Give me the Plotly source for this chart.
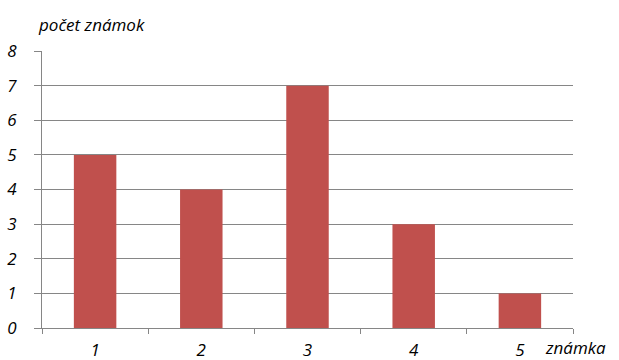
import plotly.graph_objects as go

categories = ["1", "2", "3", "4", "5"]
values = [5, 4, 7, 3, 1]
y_ticks = [0, 1, 2, 3, 4, 5, 6, 7, 8]

font = dict(family="Open Sans", size=17, color="#000000", style="italic")

fig = go.Figure(go.Bar(x=categories, y=values, marker=dict(color="#C0504D", line=dict(width=0))))

fig.update_layout(
    width=619, height=360,
    margin=dict(l=42, r=46, t=51, b=32),
    paper_bgcolor="white", plot_bgcolor="white",
    bargap=0.6, showlegend=False,
    font=font,
)
fig.update_xaxes(
    type="category", tickson="boundaries", ticks="outside", ticklen=5,
    tickcolor="#868686", showline=True, linecolor="#868686", linewidth=1,
    showgrid=False, tickfont=font, ticklabelstandoff=7, automargin=False,
)
fig.update_yaxes(
    range=[0, 8], tickvals=y_ticks, ticks="outside", ticklen=7,
    tickcolor="#868686", showline=True, linecolor="#868686", linewidth=1,
    showgrid=True, gridcolor="#868686", gridwidth=1, zeroline=False,
    tickfont=font, ticklabelstandoff=14, automargin=False,
)
fig.add_annotation(text="počet známok", xref="paper", yref="paper", x=0, y=1.0,
                   xanchor="left", yanchor="bottom", xshift=-6, yshift=13, showarrow=False, font=font)
fig.add_annotation(text="známka", xref="paper", yref="paper", x=1.0, y=0,
                   xanchor="left", yanchor="top", xshift=-30, yshift=-6, showarrow=False, font=font)

fig.write_html("out.html")
